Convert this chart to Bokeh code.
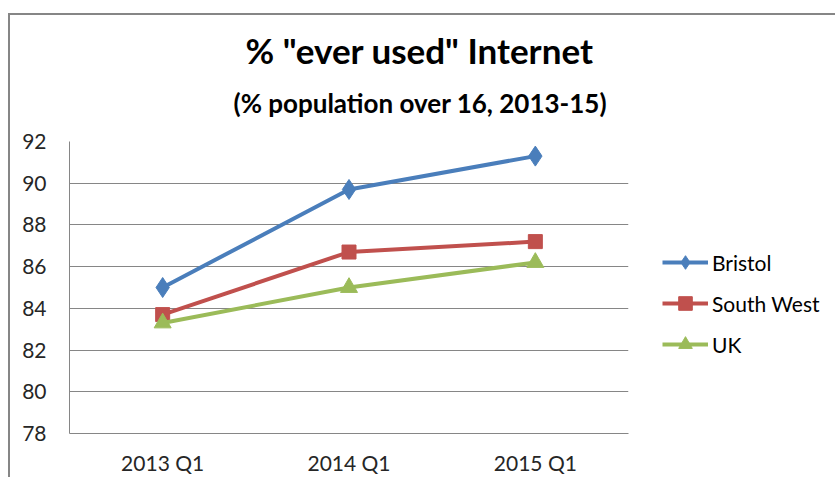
from bokeh.plotting import figure
from bokeh.models import FactorRange, Range1d, FixedTicker, Legend, LegendItem, Title
from bokeh.embed import file_html
from bokeh.resources import INLINE

categories = ["2013 Q1", "2014 Q1", "2015 Q1"]
bristol = [85.0, 89.7, 91.3]
south_west = [83.7, 86.7, 87.2]
uk = [83.3, 85.0, 86.2]
y_ticks = [78, 80, 82, 84, 86, 88, 90, 92]

FONT = "Lato"
p = figure(
    x_range=FactorRange(*categories),
    y_range=Range1d(78, 92),
    frame_width=559, frame_height=292,
    output_backend="svg", toolbar_location=None,
    min_border_left=59, min_border_right=207, min_border_top=126, min_border_bottom=40,
    outline_line_color=None,
)
p.margin = (13, 0, 0, 8)
p.styles = {"border-top": "2px solid #868686", "border-left": "2px solid #868686"}

p.add_layout(Title(text="(% population over 16, 2013-15)", align="left", offset=164, standoff=46,
                   text_font=FONT, text_font_size="26px", text_font_style="bold",
                   text_color="#000000"), "above")
p.add_layout(Title(text='% "ever used" Internet', align="left", offset=176, standoff=-18,
                   text_font=FONT, text_font_size="35px", text_font_style="bold",
                   text_color="#000000"), "above")

p.xgrid.grid_line_color = None
p.ygrid.grid_line_color = "#868686"
p.ygrid.grid_line_width = 1
p.yaxis.ticker = FixedTicker(ticks=y_ticks)
for ax in (p.xaxis[0], p.yaxis[0]):
    ax.axis_line_color = "#868686"
    ax.axis_line_width = 1
    ax.major_tick_line_color = None
    ax.minor_tick_line_color = None
    ax.major_label_text_font = FONT
    ax.major_label_text_font_size = "21px"
    ax.major_label_text_color = "#262626"
p.yaxis.major_label_standoff = 17
p.xaxis.major_label_standoff = 10

r1 = p.line(categories, bristol, line_color="#4A7EBB", line_width=4)
m1 = p.scatter(categories, bristol, marker="diamond", size=20, fill_color="#4A7EBB", line_color="#4A7EBB")
r2 = p.line(categories, south_west, line_color="#C0504D", line_width=4)
m2 = p.scatter(categories, south_west, marker="square", size=14, fill_color="#C0504D", line_color="#C0504D")
r3 = p.line(categories, uk, line_color="#9BBB59", line_width=4)
m3 = p.scatter(categories, uk, marker="triangle", size=17, fill_color="#9BBB59", line_color="#9BBB59")

legend = Legend(items=[
    LegendItem(label="Bristol", renderers=[r1, m1]),
    LegendItem(label="South West", renderers=[r2, m2]),
    LegendItem(label="UK", renderers=[r3, m3]),
], location=(34, 72))
legend.border_line_color = None
legend.background_fill_alpha = 0
legend.label_text_font = FONT
legend.label_text_font_size = "21px"
legend.label_text_color = "#000000"
legend.glyph_width = 46
legend.glyph_height = 34
legend.label_height = 25
legend.spacing = 7
legend.label_standoff = 4
legend.padding = 0
legend.margin = 0
p.add_layout(legend, "right")

open("out.html", "w").write(file_html(p, INLINE))
